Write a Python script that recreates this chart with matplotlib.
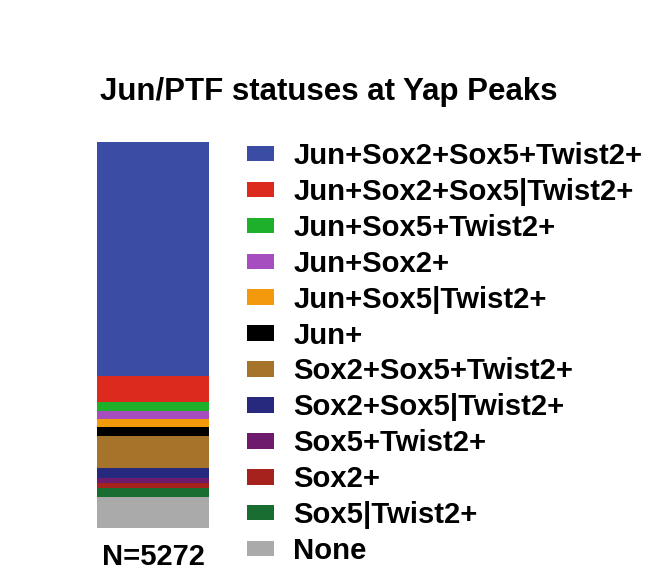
import numpy as np
import matplotlib
matplotlib.use("Agg")
from matplotlib import pyplot as plt
from matplotlib.patches import Patch

# categories, top of stack first
statuses = ["Jun+Sox2+Sox5+Twist2+", "Jun+Sox2+Sox5|Twist2+", "Jun+Sox5+Twist2+",
	"Jun+Sox2+", "Jun+Sox5|Twist2+", "Jun+", "Sox2+Sox5+Twist2+",
	"Sox2+Sox5|Twist2+", "Sox5+Twist2+", "Sox2+", "Sox5|Twist2+", "None"]
peak_counts = [3201, 351, 123, 117, 101, 123, 445, 137, 68, 68, 123, 415]
colors = ["#3a4ca3", "#dc2a1f", "#1eb02b", "#a64dbf", "#f39a0c", "#000000",
	"#a5742a", "#27297f", "#6e1b6e", "#a6221c", "#1a6d31", "#aaaaaa"]
total_label = "N=5272"
title = "Jun/PTF statuses at Yap Peaks"

plt.rcParams['font.family'] = ['Liberation Sans', 'DejaVu Sans']

fig = plt.figure(figsize=(6.49, 5.80), dpi=100)
ax = fig.add_axes([96.7/649, 1-527.7/580, 112.6/649, 386/580])

# stack from the bottom up
bottom = 0
for name, n, c in zip(statuses[::-1], peak_counts[::-1], colors[::-1]):
	ax.bar(0, n, width=1, bottom=bottom, color=c, linewidth=0)
	bottom += n
ax.set_xlim(-0.5, 0.5)
ax.set_ylim(0, bottom)
ax.set_yticks([])
ax.set_xticks([0])
ax.set_xticklabels([total_label], fontsize=21, fontweight='bold')
ax.tick_params(axis='x', length=0, pad=11)
for s in ax.spines.values():
	s.set_visible(False)

fig.text(329/649, 1-92/580, title, ha='center', va='center', fontsize=22.5, fontweight='bold')

handles = [Patch(facecolor=c, edgecolor='none') for c in colors]
fig.legend(handles, statuses, loc='upper left', bbox_to_anchor=(247/649, 1-142/580),
	frameon=False, borderpad=0, borderaxespad=0,
	prop={'weight': 'bold', 'size': 21.1},
	handlelength=0.92, handleheight=0.44, handletextpad=0.66, labelspacing=0.27)

fig.savefig("out.png", dpi=100)
